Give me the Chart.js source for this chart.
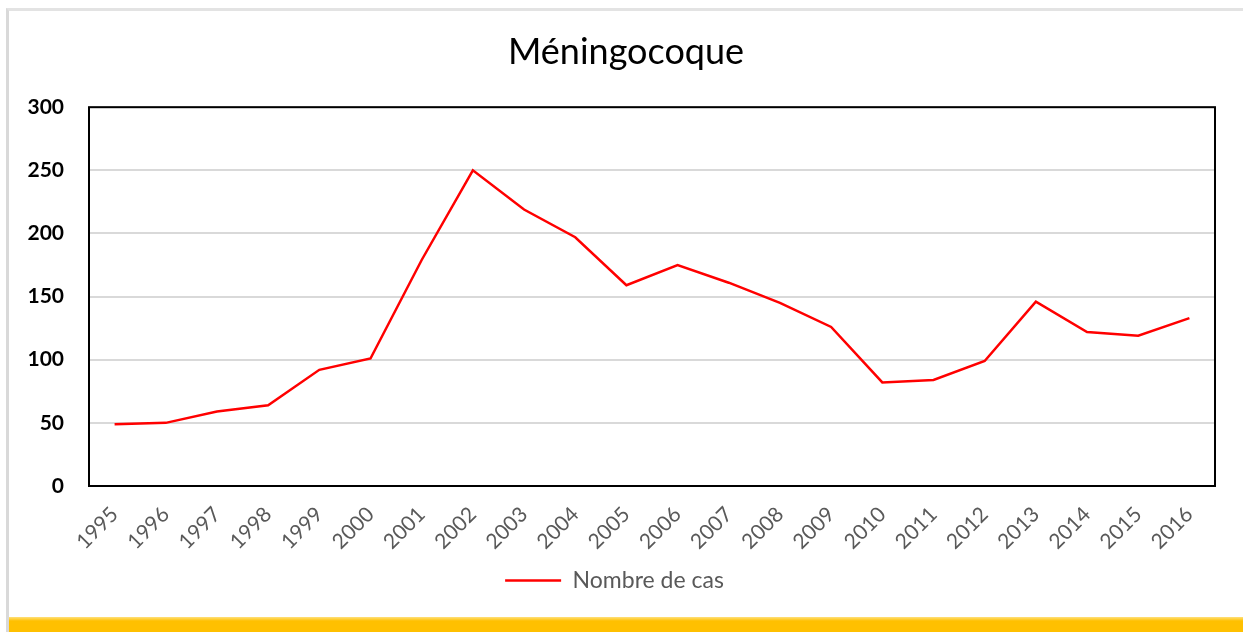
<!DOCTYPE html>
<html>
<head>
<meta charset="utf-8">
<script src="https://cdn.jsdelivr.net/npm/chart.js@4.4.1/dist/chart.umd.min.js"></script>
<style>
  html, body { margin: 0; padding: 0; background: #fff; }
  body { width: 1243px; height: 632px; position: relative; overflow: hidden; }
  .frame { position: absolute; left: 6px; top: 8px; right: 0; bottom: 0; border-left: 3px solid #d9d9d9; border-top: 3px solid #e3e3e3; }
  .band { position: absolute; left: 9px; right: 0; top: 617px; height: 15px; background: linear-gradient(#ffe07a 0, #ffc000 4px, #ffc000 100%); }
  #wrap { position: absolute; left: 0; top: 0; width: 1243px; height: 617px; }
</style>
</head>
<body>
<div class="frame"></div>
<div class="band"></div>
<div id="wrap"><canvas id="chart"></canvas></div>
<script>
// données
const annees = ['1995', '1996', '1997', '1998', '1999', '2000', '2001', '2002', '2003', '2004', '2005',
  '2006', '2007', '2008', '2009', '2010', '2011', '2012', '2013', '2014', '2015', '2016'];
const nombreDeCas = [49, 50, 59, 64, 92, 101, 179, 250, 219, 197, 159,
  175, 161, 145, 126, 82, 84, 99, 146, 122, 119, 133];
const graduationsY = [0, 50, 100, 150, 200, 250, 300];

const police = 'Lato, "Open Sans", sans-serif';

// cadre noir autour de la zone de tracé
const cadre = {
  id: 'cadre',
  afterLayout(chart) {
    // centre le titre et la légende comme sur l'original
    if (chart.titleBlock) { chart.titleBlock.left = 9; chart.titleBlock.right = 1243; }
    if (chart.legend) { chart.legend.left = 7; chart.legend.right = 1222; }
  },
  afterDraw(chart) {
    const { ctx, chartArea: a } = chart;
    ctx.save();
    ctx.strokeStyle = '#000';
    ctx.lineWidth = 2;
    ctx.strokeRect(a.left, a.top, a.right - a.left, a.bottom - a.top);
    ctx.restore();
  }
};

new Chart(document.getElementById('chart'), {
  type: 'line',
  data: {
    labels: annees,
    datasets: [{
      label: 'Nombre de cas',
      data: nombreDeCas,
      borderColor: '#ff0000',
      backgroundColor: '#ff0000',
      borderWidth: 2.5,
      pointRadius: 0,
      tension: 0,
      fill: false
    }]
  },
  options: {
    responsive: true,
    maintainAspectRatio: false,
    animation: false,
    layout: { padding: { left: 0, right: 28, top: 0, bottom: 15 } },
    plugins: {
      title: {
        display: true,
        text: 'Méningocoque',
        color: '#000',
        font: { family: police, size: 36, weight: 'normal' },
        padding: { top: 31, bottom: 33 }
      },
      legend: {
        position: 'bottom',
        labels: {
          usePointStyle: true,
          pointStyle: 'line',
          pointStyleWidth: 56,
          color: '#595959',
          font: { family: police, size: 23 },
          padding: 10
        }
      },
      tooltip: { enabled: false }
    },
    scales: {
      x: {
        offset: true,
        grid: { display: false, drawTicks: false },
        border: { display: false },
        ticks: {
          color: '#595959',
          font: { family: police, size: 21 },
          minRotation: 45,
          maxRotation: 45,
          padding: 16
        },
        afterFit: (s) => { s.height = 73; }
      },
      y: {
        min: 0,
        max: 300,
        afterBuildTicks: (s) => { s.ticks = graduationsY.map(v => ({ value: v })); },
        grid: { color: '#d9d9d9', lineWidth: 2, drawTicks: false },
        border: { display: false },
        ticks: {
          color: '#000',
          font: { family: police, size: 21, weight: 'bold' },
          padding: 25
        },
        afterFit: (s) => { s.width = 89; }
      }
    }
  },
  plugins: [cadre]
});
</script>
</body>
</html>
